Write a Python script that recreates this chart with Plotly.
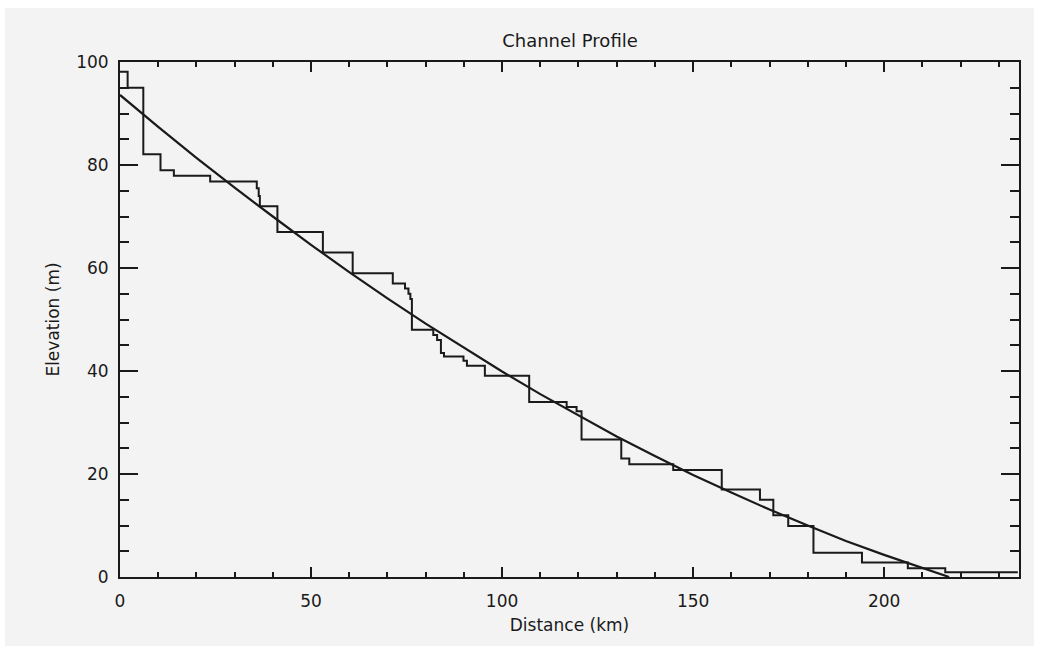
import plotly.graph_objects as go

# Stepped channel profile (segment start distance, elevation)
step_distance = [0, 2.0, 6.1, 10.6, 14.1, 23.6, 35.8, 36.3, 36.6, 41.2, 53.1, 60.9,
                 71.4, 74.6, 75.5, 76.0, 76.4, 82.0, 83.0, 84.0, 84.8, 89.9, 90.8,
                 95.5, 107.1, 116.9, 119.5, 120.8, 131.2, 133.3, 144.8, 157.5, 167.5,
                 171.0, 174.9, 181.5, 194.2, 206.2, 216.0, 235.0]
step_elevation = [98.1, 95.0, 82.1, 79.0, 77.9, 76.8, 75.5, 74.0, 72.0, 67.0, 63.0, 59.0,
                  57.0, 56.0, 55.0, 54.0, 48.0, 47.0, 46.0, 43.5, 42.8, 42.0, 41.0,
                  39.1, 34.0, 33.0, 32.2, 26.7, 23.0, 21.9, 20.8, 17.0, 15.0,
                  12.0, 9.9, 4.7, 2.8, 1.7, 0.9, 0.9]

# Smooth fitted profile
fit_distance = [0, 10, 20, 30, 40, 50, 60, 70, 80, 90, 100, 110, 120, 130, 140, 150,
                160, 170, 180, 190, 200, 210, 217]
fit_elevation = [93.6, 87.4, 81.4, 75.6, 70.0, 64.5, 59.2, 54.1, 49.2, 44.5, 39.9, 35.5,
                 31.4, 27.3, 23.5, 19.8, 16.4, 13.1, 10.0, 7.0, 4.3, 1.7, 0.0]

x_tickvals = [0, 50, 100, 150, 200]
y_tickvals = [0, 20, 40, 60, 80, 100]

INK = "#1a1a1a"
FONT = "DejaVu Sans"
FS = 17

fig = go.Figure()
fig.add_trace(go.Scatter(x=step_distance, y=step_elevation, mode="lines",
                         line=dict(color=INK, width=2, shape="hv"), showlegend=False))
fig.add_trace(go.Scatter(x=fit_distance, y=fit_elevation, mode="lines",
                         line=dict(color=INK, width=2.2), showlegend=False))

# light grey panel with a thin white border around it
L, R, T, B = 120, 20, 62, 75
W, H = 1039, 652
pw, ph = W - L - R, H - T - B
def px2x(p): return (p - L) / pw
def py2y(p): return (H - B - p) / ph
fig.add_shape(type="rect", xref="paper", yref="paper", layer="below",
              x0=px2x(5), x1=px2x(1034), y0=py2y(646), y1=py2y(8),
              fillcolor="#f3f3f3", line=dict(width=0))

fig.update_layout(
    width=W, height=H,
    margin=dict(l=L, r=R, t=T, b=B),
    paper_bgcolor="white",
    plot_bgcolor="rgba(0,0,0,0)",
    font=dict(family=FONT, size=FS, color=INK),
    title=dict(text="Channel Profile", x=570 / W, xanchor="center",
               y=1 - 41 / H, yanchor="middle", font=dict(size=FS + 1, family=FONT, color=INK)),
)
fig.update_xaxes(
    range=[0, 235.3], tickvals=x_tickvals, ticks="inside", ticklen=10, tickwidth=2,
    tickcolor=INK, showline=True, linecolor=INK, linewidth=2, mirror="ticks",
    showgrid=False, zeroline=False, ticklabelstandoff=8,
    minor=dict(dtick=10, tick0=0, ticks="inside", ticklen=5, tickwidth=2, tickcolor=INK,
               showgrid=False),
    title=dict(text="Distance (km)", standoff=9, font=dict(size=FS)),
    tickfont=dict(size=FS),
)
fig.update_yaxes(
    range=[0, 100], tickvals=y_tickvals, ticks="inside", ticklen=18, tickwidth=2,
    tickcolor=INK, showline=True,
    linecolor=INK, linewidth=2, mirror="ticks",
    showgrid=False, zeroline=False, ticklabelstandoff=6,
    minor=dict(dtick=5, tick0=0, ticks="inside", ticklen=9, tickwidth=2, tickcolor=INK,
               showgrid=False),
    title=dict(text="Elevation (m)", standoff=12, font=dict(size=FS)),
    tickfont=dict(size=FS),
)

fig.write_html("out.html")
